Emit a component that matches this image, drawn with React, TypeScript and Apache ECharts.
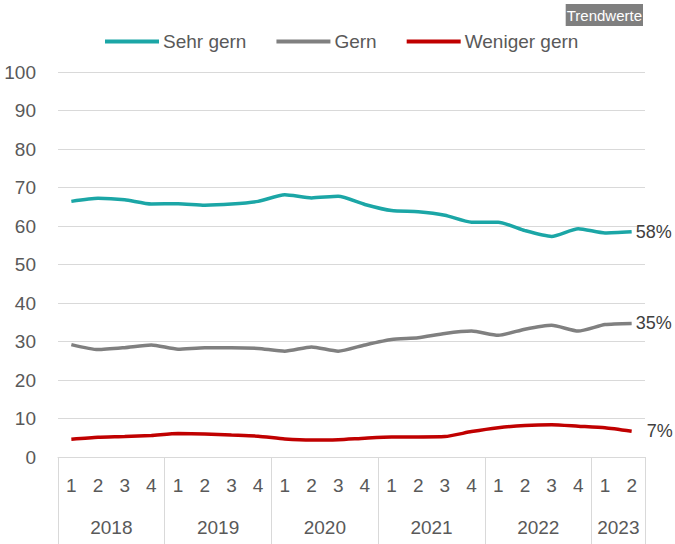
import React, { useEffect, useRef } from "react";
import * as echarts from "echarts";

const quarters = ["1","2","3","4","1","2","3","4","1","2","3","4","1","2","3","4","1","2","3","4","1","2"];
const years = ["2018", "2019", "2020", "2021", "2022", "2023"];
const yearQuarterCounts = [4, 4, 4, 4, 4, 2];

const sehrGern = [66.4, 67.2, 66.8, 65.7, 65.8, 65.4, 65.7, 66.4, 68.1, 67.3, 67.7, 65.6, 64.0, 63.7, 62.8, 61.0, 61.0, 58.8, 57.3, 59.3, 58.2, 58.5];
const gern = [29.2, 27.9, 28.4, 29.1, 28.0, 28.4, 28.4, 28.2, 27.5, 28.6, 27.5, 29.1, 30.5, 31.0, 32.1, 32.7, 31.6, 33.2, 34.2, 32.7, 34.4, 34.7];
const wenigerGern = [4.6, 5.1, 5.3, 5.6, 6.1, 6.0, 5.7, 5.4, 4.7, 4.4, 4.5, 4.9, 5.2, 5.2, 5.3, 6.6, 7.6, 8.2, 8.4, 8.0, 7.6, 6.7];

const seriesNames = ["Sehr gern", "Gern", "Weniger gern"];
const seriesColors = ["#1BA6A6", "#808080", "#C00000"];
const endLabels = ["58%", "35%", "7%"];
const endLabelDistances = [4, 4, 15];

const FONT = '"Liberation Sans", Arial, sans-serif';
const FS = 19;

export default function App() {
  const ref = useRef<HTMLDivElement>(null);
  useEffect(() => {
    if (!ref.current) return;
    document.documentElement.style.overflow = "hidden";
    document.body.style.margin = "0";
    document.body.style.overflow = "hidden";
    const chart = echarts.init(ref.current, null, { renderer: "svg" });

    const totalHalf = quarters.length * 2;
    const halfCats: string[] = [];
    for (let i = 0; i <= totalHalf; i++) halfCats.push("");
    const boundaries: number[] = [0];
    const centers: number[] = [];
    let acc = 0;
    yearQuarterCounts.forEach((c, i) => {
      centers.push(acc * 2 + c);
      acc += c;
      boundaries.push(acc * 2);
      halfCats[centers[i]] = years[i];
    });

    const data = [sehrGern, gern, wenigerGern];

    chart.setOption({
      animation: false,
      textStyle: { fontFamily: FONT },
      title: {
        text: "Trendwerte",
        right: 32,
        top: 4,
        padding: [2, 1, 2, 1],
        backgroundColor: "#7F7F7F",
        textStyle: { color: "#FFFFFF", fontSize: 15, lineHeight: 18, fontWeight: "normal", fontFamily: FONT },
      },
      legend: {
        left: 105,
        top: 32,
        padding: 0,
        itemGap: 30,
        itemWidth: 54,
        itemHeight: 4,
        icon: "rect",
        textStyle: { color: "#595959", fontSize: FS, fontFamily: FONT, padding: [0, 0, 0, -1] },
        data: seriesNames,
      },
      grid: { left: 58, right: 30, top: 72, bottom: 87, containLabel: false },
      xAxis: [
        {
          type: "category",
          data: quarters,
          boundaryGap: true,
          axisLine: { show: true, lineStyle: { color: "#D9D9D9", width: 1 } },
          axisTick: { show: false },
          axisLabel: { color: "#595959", fontSize: FS, margin: 19, fontFamily: FONT },
        },
        {
          type: "category",
          data: halfCats,
          boundaryGap: false,
          position: "bottom",
          axisLine: { show: false },
          axisTick: {
            show: true,
            length: 90,
            interval: (idx: number) => boundaries.indexOf(idx) >= 0,
            lineStyle: { color: "#D9D9D9", width: 1 },
          },
          axisLabel: {
            color: "#595959",
            fontSize: FS,
            margin: 61,
            fontFamily: FONT,
            interval: (idx: number) => centers.indexOf(idx) >= 0,
          },
        },
      ],
      yAxis: {
        type: "value",
        min: 0,
        max: 100,
        interval: 10,
        axisLine: { show: false },
        axisTick: { show: false },
        splitLine: { lineStyle: { color: "#D9D9D9", width: 1 } },
        axisLabel: { color: "#595959", fontSize: FS, margin: 22, fontFamily: FONT },
      },
      series: seriesNames.map((name, i) => ({
        name,
        type: "line",
        xAxisIndex: 0,
        data: data[i],
        smooth: 0.2,
        showSymbol: false,
        symbol: "none",
        lineStyle: { color: seriesColors[i], width: 3.5 },
        itemStyle: { color: seriesColors[i] },
        endLabel: {
          show: true,
          formatter: () => endLabels[i],
          color: "#404040",
          fontSize: 18,
          fontFamily: FONT,
          distance: endLabelDistances[i],
        },
      })),
    });
    return () => chart.dispose();
  }, []);
  return (
    <div style={{ width: 675, height: 544, overflow: "hidden" }}>
      <div ref={ref} style={{ width: 675, height: 544 }} />
    </div>
  );
}
